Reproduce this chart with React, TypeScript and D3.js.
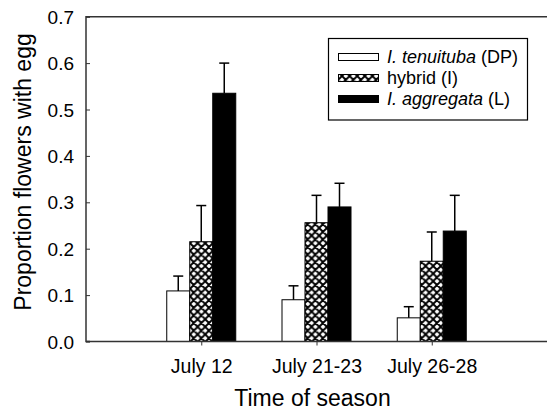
import React, { useEffect, useRef } from "react";
import * as d3 from "d3";

// data
const categories = ["July 12", "July 21-23", "July 26-28"];
const seriesNames = ["I. tenuituba", "hybrid", "I. aggregata"];
const seriesSuffix = [" (DP)", " (I)", " (L)"];
const tenuituba = [0.109, 0.09, 0.051];
const hybrid = [0.215, 0.256, 0.173];
const aggregata = [0.535, 0.29, 0.238];
const tenuitubaErr = [0.141, 0.12, 0.075];
const hybridErr = [0.293, 0.315, 0.236];
const aggregataErr = [0.6, 0.341, 0.315];
const yTicks = [0, 0.1, 0.2, 0.3, 0.4, 0.5, 0.6, 0.7];

const FONT = "'Liberation Sans', Arial, sans-serif";

export default function App() {
  const svgRef = useRef<SVGSVGElement | null>(null);

  useEffect(() => {
    const W = 547;
    const H = 413;
    const svg = d3.select(svgRef.current);
    svg.selectAll("*").remove();

    const left = 86;
    const top = 16.7;
    const bottom = 341.5;

    const x = d3.scaleLinear().domain([0, categories.length + 1]).range([left, W]);
    const y = d3.scaleLinear().domain([0, 0.7]).range([bottom, top]);
    const barW = 23;

    // crosshatch pattern
    const defs = svg.append("defs");
    const pat = defs
      .append("pattern")
      .attr("id", "xhatch")
      .attr("patternUnits", "userSpaceOnUse")
      .attr("width", 7.6)
      .attr("height", 7.6);
    pat.append("rect").attr("width", 7.6).attr("height", 7.6).attr("fill", "#fff");
    pat
      .append("path")
      .attr("d", "M0,0 L7.6,7.6 M7.6,0 L0,7.6 M-1,1 L1,-1 M6.6,8.6 L8.6,6.6 M-1,6.6 L1,8.6 M6.6,-1 L8.6,1")
      .attr("stroke", "#000")
      .attr("stroke-width", 1.9);

    const fills = ["#fff", "url(#xhatch)", "#000"];
    const values = [tenuituba, hybrid, aggregata];
    const errs = [tenuitubaErr, hybridErr, aggregataErr];

    // frame line on top
    svg
      .append("line")
      .attr("x1", left).attr("x2", W)
      .attr("y1", top).attr("y2", top)
      .attr("stroke", "#333").attr("stroke-width", 1.5);

    // bars
    const g = svg.append("g");
    values.forEach((vals, s) => {
      vals.forEach((v, i) => {
        const cx = x(i + 1) + (s - 1) * barW;
        g.append("rect")
          .attr("x", cx - barW / 2)
          .attr("y", y(v))
          .attr("width", barW)
          .attr("height", y(0) - y(v))
          .attr("fill", fills[s])
          .attr("stroke", "#000")
          .attr("stroke-width", 1);
        // error bar
        g.append("line")
          .attr("x1", cx).attr("x2", cx)
          .attr("y1", y(v)).attr("y2", y(errs[s][i]))
          .attr("stroke", "#000").attr("stroke-width", 1.5);
        g.append("line")
          .attr("x1", cx - 5).attr("x2", cx + 5)
          .attr("y1", y(errs[s][i])).attr("y2", y(errs[s][i]))
          .attr("stroke", "#000").attr("stroke-width", 1.5);
      });
    });

    // Y axis
    const yAxis = svg
      .append("g")
      .attr("transform", `translate(${left},0)`)
      .call(
        d3.axisRight(y)
          .tickValues(yTicks)
          .tickSize(4)
          .tickFormat((d) => d3.format(".1f")(d as number))
      );
    yAxis.select(".domain").attr("stroke", "#333").attr("stroke-width", 1.5).attr("d", `M4,${top}H0V${bottom}H4`);
    yAxis.selectAll(".tick line").attr("stroke", "#333");
    yAxis
      .selectAll(".tick text")
      .attr("x", -12)
      .attr("text-anchor", "end")
      .attr("dy", "0.35em")
      .style("font-family", FONT)
      .style("font-size", "19px")
      .attr("fill", "#000");

    // X axis
    const xAxis = svg
      .append("g")
      .attr("transform", `translate(0,${bottom})`)
      .call(
        d3.axisBottom(x)
          .tickValues(categories.map((_, i) => i + 1))
          .tickSize(4)
          .tickFormat((d) => categories[(d as number) - 1])
      );
    xAxis.select(".domain").attr("stroke", "#333").attr("stroke-width", 1.5).attr("d", `M${left},0H${W}`);
    xAxis.selectAll(".tick line").attr("stroke", "#333");
    xAxis
      .selectAll(".tick text")
      .attr("y", 31.5)
      .attr("dy", 0)
      .style("font-family", FONT)
      .style("font-size", "19.5px")
      .attr("fill", "#000");

    // axis titles
    svg
      .append("text")
      .attr("x", (left + W) / 2 - 4)
      .attr("y", 406)
      .attr("text-anchor", "middle")
      .style("font-family", FONT)
      .style("font-size", "23px")
      .text("Time of season");

    svg
      .append("text")
      .attr("transform", `translate(31,172) rotate(-90)`)
      .attr("text-anchor", "middle")
      .style("font-family", FONT)
      .style("font-size", "23px")
      .text("Proportion flowers with egg");

    // legend
    const lg = svg.append("g");
    lg.append("rect")
      .attr("x", 328.5).attr("y", 38.5)
      .attr("width", 199).attr("height", 81.5)
      .attr("fill", "#fff").attr("stroke", "#000").attr("stroke-width", 1.2);
    seriesNames.forEach((name, s) => {
      const base = 63 + s * 21;
      lg.append("rect")
        .attr("x", 338.5).attr("y", base - 9.5)
        .attr("width", 40).attr("height", 7)
        .attr("fill", fills[s]).attr("stroke", "#000").attr("stroke-width", 1);
      const t = lg.append("text")
        .attr("x", 387).attr("y", base)
        .style("font-family", FONT)
        .style("font-size", "18px");
      t.append("tspan")
        .style("font-style", s === 1 ? "normal" : "italic")
        .text(name);
      t.append("tspan").text(seriesSuffix[s]);
    });
  }, []);

  return (
    <svg
      ref={svgRef}
      width={547}
      height={413}
      style={{ position: "absolute", left: 0, top: 0, background: "#fff" }}
    ></svg>
  );
}
